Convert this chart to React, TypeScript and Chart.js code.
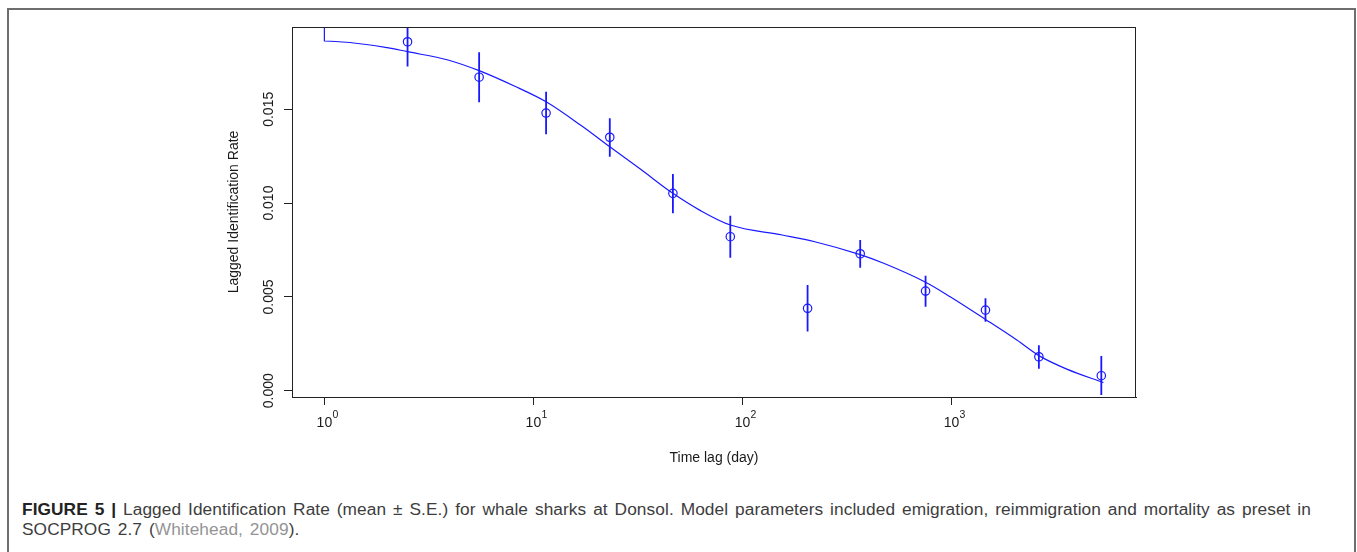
import React, { useEffect, useRef } from "react";
import { Chart, registerables } from "chart.js";

Chart.register(...registerables);

// ---- Data ----
const lagDays = [2.5, 5.5, 11.5, 23.2, 46.5, 87.5, 205, 366, 752, 1455, 2620, 5212];
const lirMean = [0.0186, 0.01671, 0.0148, 0.01351, 0.01052, 0.00821, 0.00439, 0.0073, 0.00531, 0.0043, 0.00181, 0.0008];
const lirLower = [0.01728, 0.01537, 0.01367, 0.01247, 0.00946, 0.00709, 0.00315, 0.00656, 0.00448, 0.00368, 0.00117, -0.00023];
const lirUpper = [0.01992, 0.01804, 0.01594, 0.01452, 0.01155, 0.00933, 0.00563, 0.00803, 0.00613, 0.00493, 0.00242, 0.00185];

const fitDays = [1, 1, 2, 2.5, 3.9, 5.5, 8.1, 11.5, 16.8, 23.2, 32.6, 46.5, 63, 87.5, 155, 222, 366, 474, 752, 986, 1455, 2055, 2620, 3565, 5333];
const fitRate = [0.0215, 0.01864, 0.01829, 0.01807, 0.01763, 0.01706, 0.01624, 0.0154, 0.01416, 0.013, 0.0118, 0.01052, 0.0096, 0.00883, 0.0083, 0.00794, 0.00725, 0.00679, 0.00578, 0.00501, 0.0038, 0.0027, 0.00187, 0.00115, 0.00043];

const xTickValues = [1, 10, 100, 1000];
const yTickValues = [0, 0.005, 0.01, 0.015];

const X_MIN = 0.7087;
const X_MAX = 7638;
const Y_MIN = -0.000336;
const Y_MAX = 0.019387;

const BLUE = "rgb(25,25,255)";
const FONT = '"Liberation Sans", Arial, Helvetica, sans-serif';
const INK = "#1a1a1a";

const boxPlugin = {
  id: "plotBox",
  afterDatasetsDraw(chart: any) {
    const { ctx, chartArea: a } = chart;
    ctx.save();
    ctx.strokeStyle = "#222";
    ctx.lineWidth = 1;
    ctx.strokeRect(
      Math.round(a.left) + 0.5,
      Math.round(a.top) + 0.5,
      Math.round(a.right) - Math.round(a.left) - 1,
      Math.round(a.bottom) - Math.round(a.top)
    );
    ctx.restore();
  },
};

// x tick labels as powers of ten: "10" with a raised exponent
const powLabelPlugin = {
  id: "powLabels",
  afterDraw(chart: any) {
    const s = chart.scales.x;
    const { ctx } = chart;
    const base = chart.chartArea.bottom;
    ctx.save();
    ctx.fillStyle = INK;
    ctx.textBaseline = "alphabetic";
    xTickValues.forEach((v) => {
      const px = s.getPixelForValue(v);
      const exp = String(Math.round(Math.log10(v)));
      ctx.font = `14px ${FONT}`;
      ctx.textAlign = "center";
      ctx.fillText("10", px, base + 29.5);
      ctx.font = `10.5px ${FONT}`;
      ctx.textAlign = "left";
      ctx.fillText(exp, px + 8, base + 21);
    });
    ctx.restore();
  },
};

export default function App() {
  const ref = useRef<HTMLCanvasElement>(null);

  useEffect(() => {
    const errorBars: any[] = [];
    lagDays.forEach((d, i) => {
      errorBars.push({ x: d, y: lirLower[i] });
      errorBars.push({ x: d, y: lirUpper[i] });
      errorBars.push({ x: d, y: null });
    });
    const chart = new Chart(ref.current as HTMLCanvasElement, {
      type: "line",
      data: {
        datasets: [
          {
            label: "mean",
            data: lagDays.map((d, i) => ({ x: d, y: lirMean[i] })),
            showLine: false,
            pointRadius: 4.2,
            pointBorderWidth: 1.2,
            pointBorderColor: BLUE,
            pointBackgroundColor: "rgba(0,0,0,0)",
            borderColor: BLUE,
          },
          {
            label: "S.E.",
            data: errorBars,
            borderColor: BLUE,
            borderWidth: 1.8,
            pointRadius: 0,
            spanGaps: false,
          },
          {
            label: "model",
            data: fitDays.map((d, i) => ({ x: d, y: fitRate[i] })),
            borderColor: BLUE,
            borderWidth: 1.2,
            pointRadius: 0,
            cubicInterpolationMode: "monotone",
          },
        ],
      },
      options: {
        animation: false,
        responsive: false,
        events: [],
        layout: { padding: { left: 0, top: 27, right: 221, bottom: 0 } },
        plugins: { legend: { display: false }, tooltip: { enabled: false } },
        scales: {
          x: {
            type: "logarithmic",
            min: X_MIN,
            max: X_MAX,
            afterBuildTicks: (s: any) => {
              s.ticks = xTickValues.map((v) => ({ value: v }));
            },
            afterFit: (s: any) => {
              s.height = 83;
            },
            ticks: { display: false, autoSkip: false, maxRotation: 0 },
            grid: { drawOnChartArea: false, drawTicks: true, tickLength: 8, color: "#222", lineWidth: 1 },
            border: { display: true, color: "#222", width: 1 },
            title: {
              display: true,
              text: "Time lag (day)",
              color: INK,
              font: { family: FONT, size: 14 },
              padding: { top: 0, bottom: 13 },
            },
          },
          y: {
            type: "linear",
            min: Y_MIN,
            max: Y_MAX,
            afterBuildTicks: (s: any) => {
              s.ticks = yTickValues.map((v) => ({ value: v }));
            },
            afterFit: (s: any) => {
              s.width = 292;
            },
            ticks: {
              minRotation: 90,
              maxRotation: 90,
              crossAlign: "center",
              padding: -3,
              color: INK,
              font: { family: FONT, size: 14 },
              callback: (v: any) => Number(v).toFixed(3),
            },
            grid: { drawOnChartArea: false, drawTicks: true, tickLength: 8, color: "#222", lineWidth: 1 },
            border: { display: true, color: "#222", width: 1 },
            title: {
              display: true,
              text: "Lagged Identification Rate",
              color: INK,
              font: { family: FONT, size: 14 },
              padding: { top: 226, bottom: 0 },
            },
          },
        },
      } as any,
      plugins: [boxPlugin, powLabelPlugin],
    });
    return () => chart.destroy();
  }, []);

  return (
    <div
      style={{
        position: "fixed",
        left: 0,
        top: 0,
        width: 1357,
        height: 552,
        overflow: "hidden",
        background: "#fff",
        fontFamily: FONT,
      }}
    >
      <div
        style={{
          position: "absolute",
          left: 7,
          top: 8,
          width: 1349,
          height: 700,
          boxSizing: "border-box",
          border: "2px solid #6e6e6e",
        }}
      />
      <div style={{ position: "absolute", left: 0, top: 0, width: 1357, height: 480 }}>
        <canvas ref={ref} width={1357} height={480} style={{ width: 1357, height: 480, display: "block" }} />
      </div>
      <div
        style={{
          position: "absolute",
          left: 22,
          top: 498.6,
          fontSize: 17.3,
          lineHeight: "20.7px",
          color: "#3d3d3d",
          whiteSpace: "nowrap",
          wordSpacing: "2px",
          letterSpacing: "0.08px",
        }}
      >
        <div>
          <b style={{ color: "#222" }}>FIGURE 5 |</b> Lagged Identification Rate (mean ± S.E.) for whale sharks at Donsol. Model parameters included emigration, reimmigration and mortality as preset in
        </div>
        <div>
          SOCPROG 2.7 (<span style={{ color: "#949494" }}>Whitehead, 2009</span>).
        </div>
      </div>
    </div>
  );
}
